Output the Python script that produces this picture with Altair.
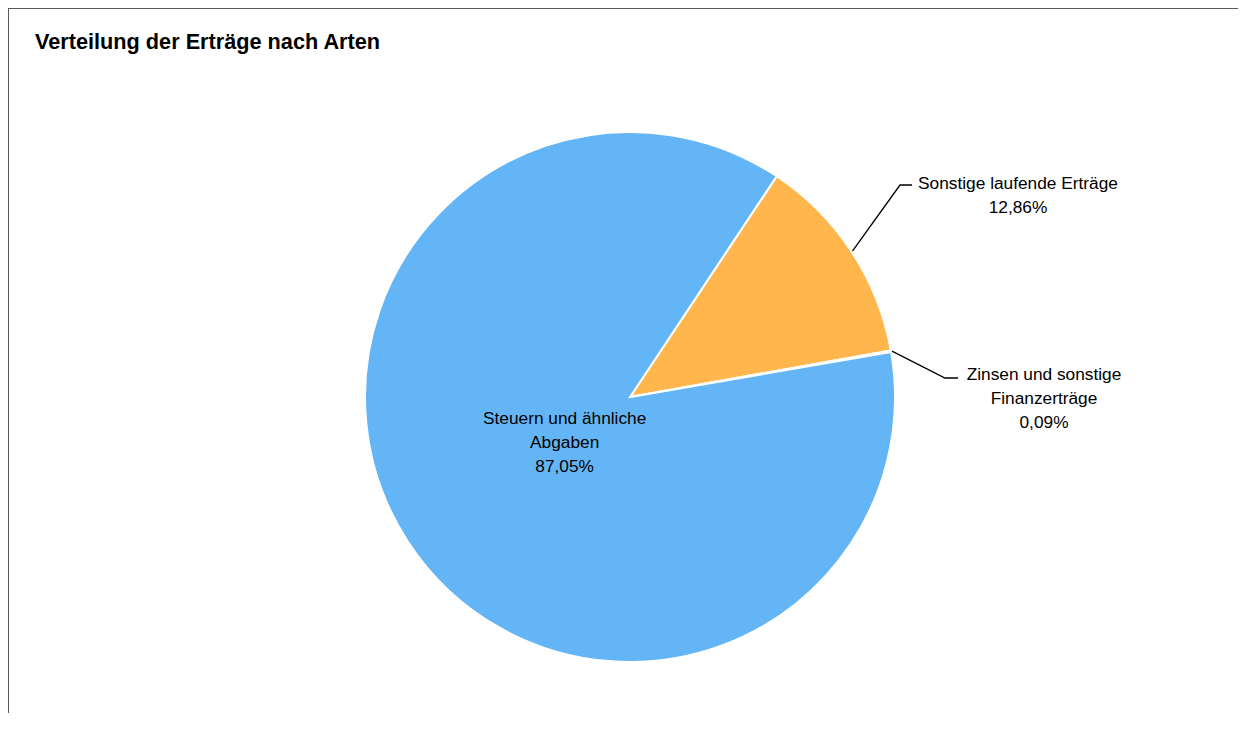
import math
import altair as alt
import pandas as pd

# ---- data ----
categories = ["Sonstige laufende Erträge", "Zinsen und sonstige Finanzerträge", "Steuern und ähnliche Abgaben"]
values = [12.86, 0.09, 87.05]
label_lines = [["Sonstige laufende Erträge", "12,86%"],
               ["Zinsen und sonstige", "Finanzerträge", "0,09%"],
               ["Steuern und ähnliche", "Abgaben", "87,05%"]]
colors = ["#FFB74D", "#FFB74D", "#64B5F6"]
title_text = "Verteilung der Erträge nach Arten"

# ---- layout ----
W, H = 1230, 705
CX, CY, R = 622, 389, 265
START_DEG = 33.6
FONT = "Liberation Sans"
FS = 17.3
LH = 24
# outer label layout (elbow point, end point, first-line centre) for outside-labelled slices
outer_layout = {
    "Sonstige laufende Erträge": {"elbow": (892, 177), "end": (904, 177), "label": (1010, 176)},
    "Zinsen und sonstige Finanzerträge": {"elbow": (937, 370), "end": (950, 370), "label": (1036, 367)},
}

df = pd.DataFrame({
    "category": categories,
    "value": values,
    "order": list(range(len(categories))),
    "label": ["\n".join(l) for l in label_lines],
})
df["inner"] = [lbl if c == "Steuern und ähnliche Abgaben" else "" for c, lbl in zip(df["category"], df["label"])]

# mid angles derived from the values
total = sum(values)
cum = 0.0
mids = {}
for c, v in zip(categories, values):
    mids[c] = START_DEG + (cum + v / 2) / total * 360
    cum += v

line_rows, text_rows = [], []
for c, lay in outer_layout.items():
    a = math.radians(mids[c])
    sx, sy = CX + (R + 1) * math.sin(a), CY - (R + 1) * math.cos(a)
    pts = [(sx, sy), lay["elbow"], lay["end"]]
    for i, (px, py) in enumerate(pts):
        line_rows.append({"category": c, "i": i, "px": px, "py": py})
    lbl = df.loc[df["category"] == c, "label"].iloc[0]
    text_rows.append({"category": c, "label": lbl, "px": lay["label"][0], "py": lay["label"][1]})
lines_df = pd.DataFrame(line_rows)
texts_df = pd.DataFrame(text_rows)

theta_scale = alt.Scale(range=[math.radians(START_DEG), math.radians(START_DEG) + 2 * math.pi])

base = alt.Chart(df)
pie = base.mark_arc(outerRadius=R, stroke="white", strokeWidth=2).encode(
    theta=alt.Theta("value:Q", stack=True, scale=theta_scale),
    order=alt.Order("order:Q"),
    color=alt.Color("category:N", scale=alt.Scale(domain=categories, range=colors), legend=None),
    x=alt.value(CX), y=alt.value(CY),
)
inner_text = base.mark_text(radius=78, dy=-21, font=FONT, fontSize=FS, lineHeight=LH, lineBreak="\n",
                            align="center", baseline="middle", color="#000000").encode(
    theta=alt.Theta("value:Q", stack=True, scale=theta_scale),
    order=alt.Order("order:Q"),
    text="inner:N",
    x=alt.value(CX), y=alt.value(CY),
)
leaders = alt.Chart(lines_df).mark_line(color="#000000", strokeWidth=1.3).encode(
    x=alt.X("px:Q", scale=None), y=alt.Y("py:Q", scale=None),
    detail="category:N", order="i:Q",
)
outer_text = alt.Chart(texts_df).mark_text(font=FONT, fontSize=FS, lineHeight=LH, lineBreak="\n",
                                           align="center", baseline="middle", color="#000000").encode(
    x=alt.X("px:Q", scale=None), y=alt.Y("py:Q", scale=None), text="label:N",
)
title = alt.Chart(pd.DataFrame({"t": [title_text]})).mark_text(
    font=FONT, fontSize=21.7, fontWeight="bold", align="left", baseline="alphabetic", color="#000000"
).encode(x=alt.value(27), y=alt.value(41), text="t:N")

frame_top = alt.Chart(pd.DataFrame({"a": [0]})).mark_rule(color="#595959", strokeWidth=2).encode(
    x=alt.value(0), x2=alt.value(W), y=alt.value(0))
frame_left = alt.Chart(pd.DataFrame({"a": [0]})).mark_rule(color="#595959", strokeWidth=2).encode(
    x=alt.value(0), y=alt.value(0), y2=alt.value(H))

chart = alt.layer(frame_top, frame_left, pie, inner_text, leaders, outer_text, title).properties(
    width=W, height=H, autosize=alt.AutoSizeParams(type="none"), padding=0
).configure_view(stroke=None).resolve_scale(theta="shared")

chart.save("out.html", embed_options={"renderer": "svg", "actions": False})
